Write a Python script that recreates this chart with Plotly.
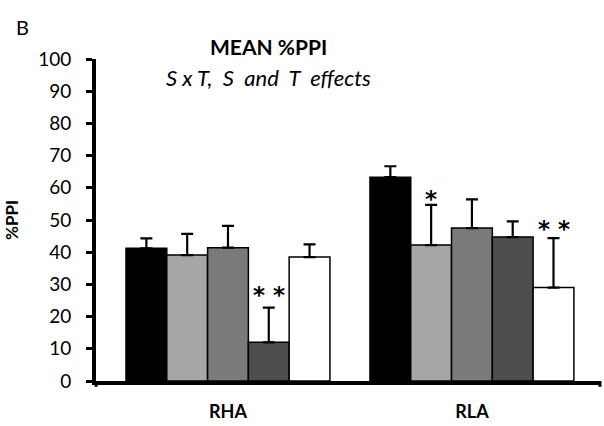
import plotly.graph_objects as go

groups = ["RHA", "RLA"]
series_names = ["S1", "S2", "S3", "S4", "S5"]
series_colors = ["#000000", "#a6a6a6", "#7a7a7a", "#4e4e4e", "#ffffff"]
means = [
    [41.2, 63.3],   # black
    [39.1, 42.2],   # light gray
    [41.4, 47.5],   # mid gray
    [12.0, 44.7],   # dark gray
    [38.5, 29.0],   # white
]
err_plus = [
    [3.1, 3.4],
    [6.6, 12.5],
    [6.8, 8.9],
    [10.8, 4.9],
    [3.9, 15.4],
]
sig_marks = [
    ["", ""],
    ["", "*"],
    ["", ""],
    ["* *", ""],
    ["", "* *"],
]
sig_y = [
    [None, None],
    [None, 58.3],
    [None, None],
    [28.5, None],
    [None, 49.0],
]

FONT = "Lato"
STAR_FONT = "DejaVu Sans"
x_pos = list(range(len(groups)))
bargap = 0.164
n = len(series_names)
slot = (1 - bargap) / n

fig = go.Figure()
for i in range(n):
    fig.add_trace(go.Bar(
        x=x_pos, y=means[i], name=series_names[i],
        marker=dict(color=series_colors[i], line=dict(color="#000000", width=1.5)),
        error_y=dict(type="data", array=err_plus[i], arrayminus=[0] * len(groups),
                     symmetric=False, color="#000000", thickness=2.2, width=6),
        showlegend=False,
    ))

annotations = []
for i in range(n):
    for g in range(len(groups)):
        if sig_marks[i][g]:
            annotations.append(dict(
                x=x_pos[g] + (i - (n - 1) / 2) * slot, y=sig_y[i][g],
                xref="x", yref="y", text="<b>%s</b>" % sig_marks[i][g], showarrow=False,
                font=dict(family=STAR_FONT, size=23, color="#000000"),
                xanchor="center", yanchor="middle", yshift=-6,
            ))

W, H = 604, 426
ml, mr, mt, mb = 96, 4, 59, 40
pw, ph = W - ml - mr, H - mt - mb

title_items = [
    ("<b>MEAN %PPI</b>", 268, 46, 21),
    ("<i>S x T,  S  and  T  effects</i>", 268, 78, 22),
    ("B", 22, 27, 20),
]
for text, px, py, size in title_items:
    annotations.append(dict(
        x=(px - ml) / pw, y=1 + (mt - py) / ph, xref="paper", yref="paper",
        text=text, showarrow=False, font=dict(family=FONT, size=size, color="#000000"),
        xanchor="center", yanchor="middle",
    ))

fig.update_layout(
    width=W, height=H,
    margin=dict(l=ml, r=mr, t=mt, b=mb),
    paper_bgcolor="white", plot_bgcolor="white",
    barmode="group", bargap=bargap, bargroupgap=0,
    font=dict(family=FONT, color="#000000"),
    xaxis=dict(
        range=[-0.541, 1.525], tickvals=x_pos, ticktext=["<b>%s</b>" % g for g in groups],
        showline=True, linecolor="#000000", linewidth=4, ticks="", showgrid=False,
        zeroline=False, tickfont=dict(family=FONT, size=18), ticklabelstandoff=11,
    ),
    yaxis=dict(
        range=[0, 100], tickvals=list(range(0, 101, 10)),
        showline=True, linecolor="#000000", linewidth=4, ticks="outside", ticklen=6,
        tickwidth=3, tickcolor="#000000", showgrid=False, zeroline=False,
        tickfont=dict(family=FONT, size=19), ticklabelstandoff=11,
        title=dict(text="<b>%PPI</b>", font=dict(family=FONT, size=17), standoff=16),
    ),
    annotations=annotations,
    shapes=[
        dict(type="line", xref="paper", yref="paper", x0=0, x1=0, y0=0, y1=-0.018,
             line=dict(color="#000000", width=3)),
        dict(type="line", xref="paper", yref="paper", x0=1, x1=1, y0=0, y1=-0.018,
             line=dict(color="#000000", width=3)),
    ],
)

fig.write_html("out.html")
